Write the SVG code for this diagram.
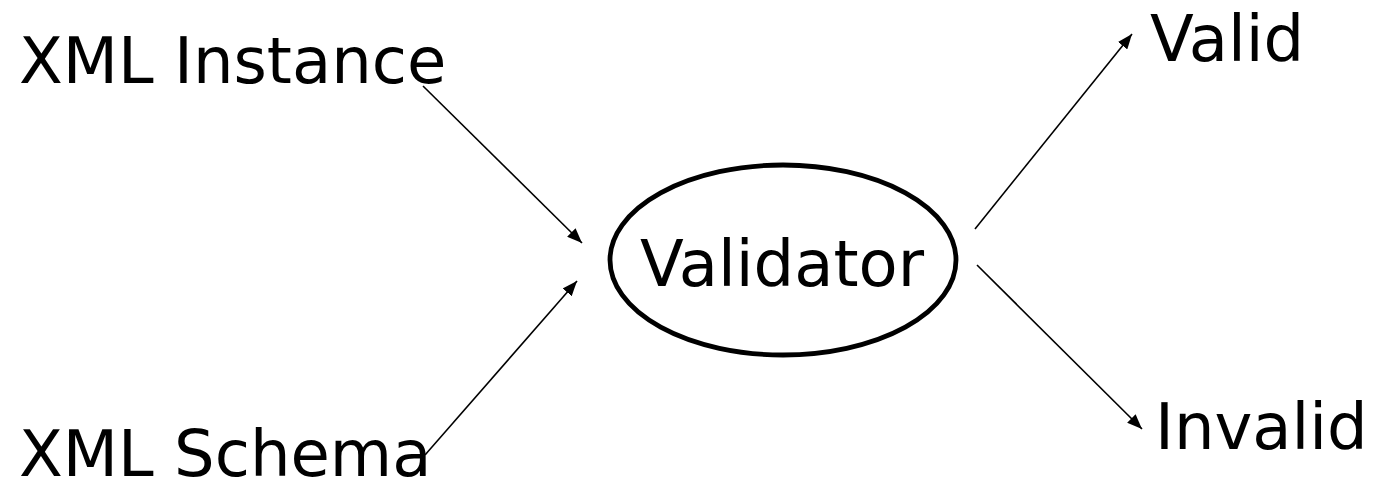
<svg xmlns="http://www.w3.org/2000/svg" width="1376" height="481" viewBox="0 0 1376 481">
<style>
text{font-family:"DejaVu Sans","Verdana",sans-serif;font-size:64px;fill:#000}
.c line{stroke:#000;stroke-width:1.6;fill:none}
</style>
<defs>
<marker id="ah" viewBox="0 0 15 12" refX="15" refY="6" markerWidth="15" markerHeight="12" markerUnits="userSpaceOnUse" orient="auto">
<path d="M0,0 L15,6 L0,12 Z" fill="#000"/>
</marker>
</defs>
<rect width="1376" height="481" fill="#fff"/>
<g id="instance"><text x="19" y="83">XML Instance</text></g>
<g id="schema"><text x="19" y="476">XML Schema</text></g>
<g id="validator">
<ellipse cx="783" cy="260" rx="173" ry="95" fill="none" stroke="#000" stroke-width="4.8"/>
<text x="640" y="286">Validator</text>
</g>
<g id="valid"><text x="1150" y="61">Valid</text></g>
<g id="invalid"><text x="1155" y="449">Invalid</text></g>
<g class="c">
<line x1="423" y1="86" x2="582" y2="243" marker-end="url(#ah)"/>
<line x1="425" y1="455" x2="577" y2="281" marker-end="url(#ah)"/>
<line x1="975" y1="229" x2="1132" y2="34" marker-end="url(#ah)"/>
<line x1="977" y1="265" x2="1142" y2="429" marker-end="url(#ah)"/>
</g>
</svg>
